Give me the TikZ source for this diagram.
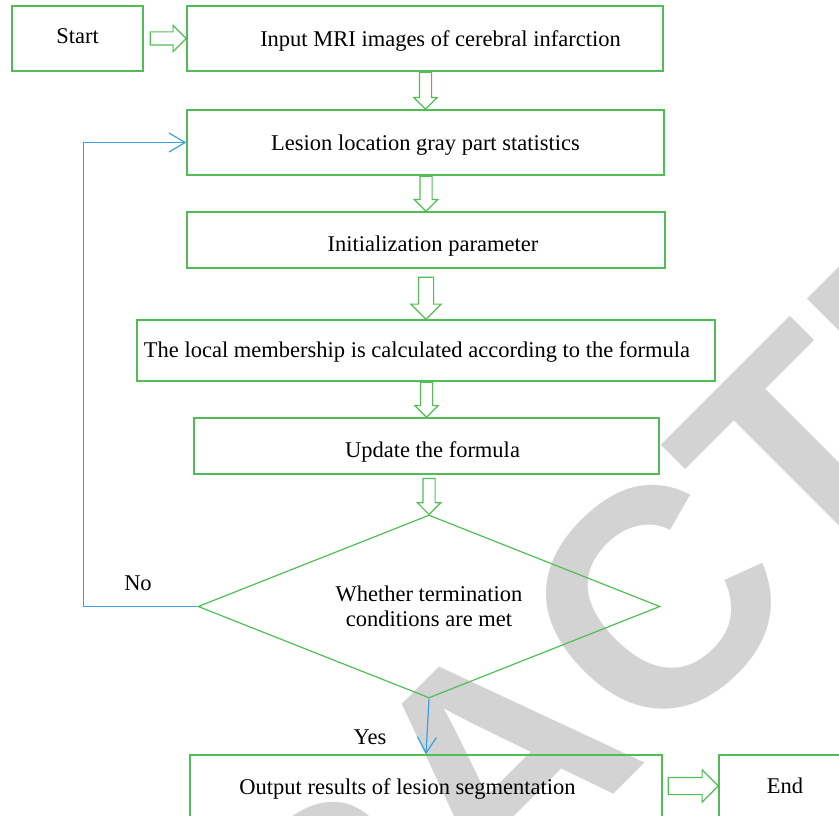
\documentclass[tikz,border=0pt]{standalone}
\usepackage{fontspec}
\setmainfont{Liberation Serif}
\newfontfamily\stampfont{Liberation Sans}
\usetikzlibrary{arrows.meta, shapes.geometric, shapes.arrows}
\definecolor{boxgreen}{RGB}{80,190,85}
\definecolor{loopblue}{RGB}{60,160,220}
\definecolor{stampgray}{RGB}{211,211,211}

\begin{document}
\begin{tikzpicture}[
      x=1pt, y=-1pt,
      font=\fontsize{22.5}{25}\selectfont,
      box/.style={draw=boxgreen, line width=1.6pt, inner sep=0pt, minimum height=65pt, text depth=5pt},
      decision/.style={diamond, draw=boxgreen, line width=1.2pt, aspect=2.5, inner sep=0pt,
          align=center, minimum width=462pt, minimum height=183pt},
      hollow/.style={single arrow, draw=boxgreen, line width=1.2pt, inner sep=6pt,
          single arrow head extend=6.5pt, outer sep=0pt, anchor=tip},
      feedback/.style={draw=loopblue, line width=1.2pt, -{Straight Barb[length=16pt, width=19pt]}}
      ]
      \clip (0,0) rectangle (839,816);
      % stamp
      \node [text=stampgray, rotate=45, anchor=base, inner sep=0pt,
          font=\stampfont\bfseries\fontsize{310}{310}\selectfont] (stamp) at (572,836) {RETRACTED};
      % boxes
      \node [box, minimum width=131pt, text height=14.6pt] (start) at (77.5,38.5) {Start};
      \node [box, minimum width=476pt, text height=21.4pt] (input) at (425,38.5) {\hspace*{31pt}Input MRI images of cerebral infarction};
      \node [box, minimum width=477pt, text height=21.5pt] (lesion) at (425.5,142.5) {Lesion location gray part statistics};
      \node [box, minimum width=478pt, minimum height=56pt, text height=27pt] (init) at (426,240) {\hspace*{14pt}Initialization parameter};
      \node [box, minimum width=578pt, minimum height=61pt, text height=19.5pt] (member) at (426,350.5) {The local membership is calculated according to the formula\hspace*{18pt}};
      \node [box, minimum width=465pt, minimum height=56pt, text height=27.5pt] (update) at (426.5,446) {\hspace*{12pt}Update the formula};
      \node [decision] (cond) at (429,606.5) {Whether termination\\conditions are met};
      \node [box, minimum width=472pt, minimum height=62pt, text height=21.5pt] (output) at (426,786) {Output results of lesion segmentation\hspace*{37pt}};
      \node [box, minimum width=132pt, minimum height=62pt, text height=20.4pt] (end) at (785,786) {End};
      % hollow arrows
      \path (start.east) -- (input.west) node [hollow, pos=1, minimum height=36pt] {};
      \path (input.south) -- (lesion.north) node [hollow, pos=1, shape border rotate=270, minimum height=37pt, inner sep=5.5pt, single arrow head extend=5.5pt] {};
      \path (lesion.south) -- (init.north) node [hollow, pos=1, shape border rotate=270, minimum height=35pt, inner sep=5.5pt, single arrow head extend=5.5pt] {};
      \path (init.south) -- (member.north) node [hollow, pos=1, shape border rotate=270, minimum height=42pt, inner sep=7pt, single arrow head extend=7.5pt] {};
      \path (member.south) -- (update.north) node [hollow, pos=1, shape border rotate=270, minimum height=35pt, inner sep=5.5pt, single arrow head extend=5.5pt] {};
      \path (update.south) -- (cond.north) node [hollow, pos=1, shape border rotate=270, minimum height=36pt, inner sep=5.5pt, single arrow head extend=5.5pt] {};
      \path (output.east) -- (end.west) node [hollow, pos=1, minimum height=50pt, inner sep=8pt, single arrow head extend=7.5pt] {};
      % blue links
      \draw [feedback] (cond.west) -- ++(-114,0) |- (lesion.west);
      \draw [feedback] (cond.south) -- (output.north);
      \node (no) at (138,583) {No};
      \node (yes) at (370,737) {Yes};
\end{tikzpicture}
\end{document}
